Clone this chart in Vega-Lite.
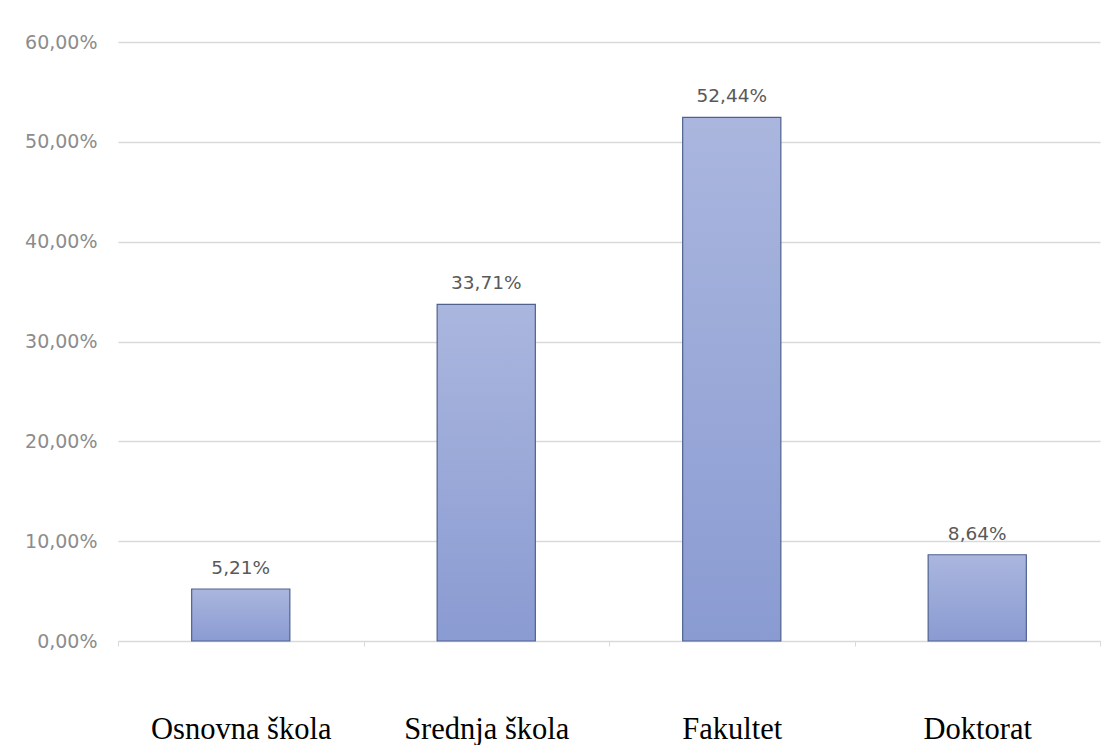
{
  "$schema": "https://vega.github.io/schema/vega-lite/v6.json",
  "autosize": {"type": "none"},
  "width": 982,
  "height": 599,
  "padding": {"left": 118, "top": 42, "right": 14, "bottom": 104},
  "background": "white",
  "config": {
    "view": {"stroke": null},
    "locale": {
      "number": {"decimal": ",", "thousands": ".", "grouping": [3], "currency": ["", " €"]}
    }
  },
  "data": {
    "values": [
      {"category": "Osnovna škola", "value": 0.0521},
      {"category": "Srednja škola", "value": 0.3371},
      {"category": "Fakultet", "value": 0.5244},
      {"category": "Doktorat", "value": 0.0864}
    ]
  },
  "encoding": {
    "x": {
      "field": "category",
      "type": "nominal",
      "sort": null,
      "scale": {"paddingInner": 0, "paddingOuter": 0},
      "axis": {
        "title": null,
        "labelAngle": 0,
        "labelFont": "Liberation Serif",
        "labelFontSize": 30.5,
        "labelColor": "#000000",
        "labelBaseline": "alphabetic",
        "labelPadding": 92,
        "labelLimit": 400,
        "domainColor": "#d9d9d9",
        "tickColor": "#d9d9d9",
        "tickSize": 5,
        "tickBand": "extent",
        "grid": false
      }
    },
    "y": {
      "field": "value",
      "type": "quantitative",
      "scale": {"domain": [0, 0.6], "nice": false},
      "axis": {
        "title": null,
        "values": [0, 0.1, 0.2, 0.3, 0.4, 0.5, 0.6],
        "format": ".2%",
        "labelFont": "DejaVu Sans",
        "labelFontSize": 19,
        "labelColor": "#8c8c8c",
        "labelPadding": 21,
        "domain": false,
        "ticks": false,
        "gridColor": "#d9d9d9",
        "gridWidth": 1.5
      }
    }
  },
  "layer": [
    {
      "mark": {
        "type": "bar",
        "width": {"band": 0.4},
        "stroke": "#4f628f",
        "strokeWidth": 1.2,
        "color": {
          "gradient": "linear",
          "x1": 0, "y1": 0, "x2": 0, "y2": 1,
          "stops": [
            {"offset": 0, "color": "#aab6de"},
            {"offset": 1, "color": "#8a9bd2"}
          ]
        }
      }
    },
    {
      "mark": {
        "type": "text",
        "baseline": "alphabetic",
        "dy": -15,
        "font": "DejaVu Sans",
        "fontSize": 18.5,
        "color": "#595959"
      },
      "encoding": {
        "text": {"field": "value", "type": "quantitative", "format": ".2%"}
      }
    }
  ]
}
